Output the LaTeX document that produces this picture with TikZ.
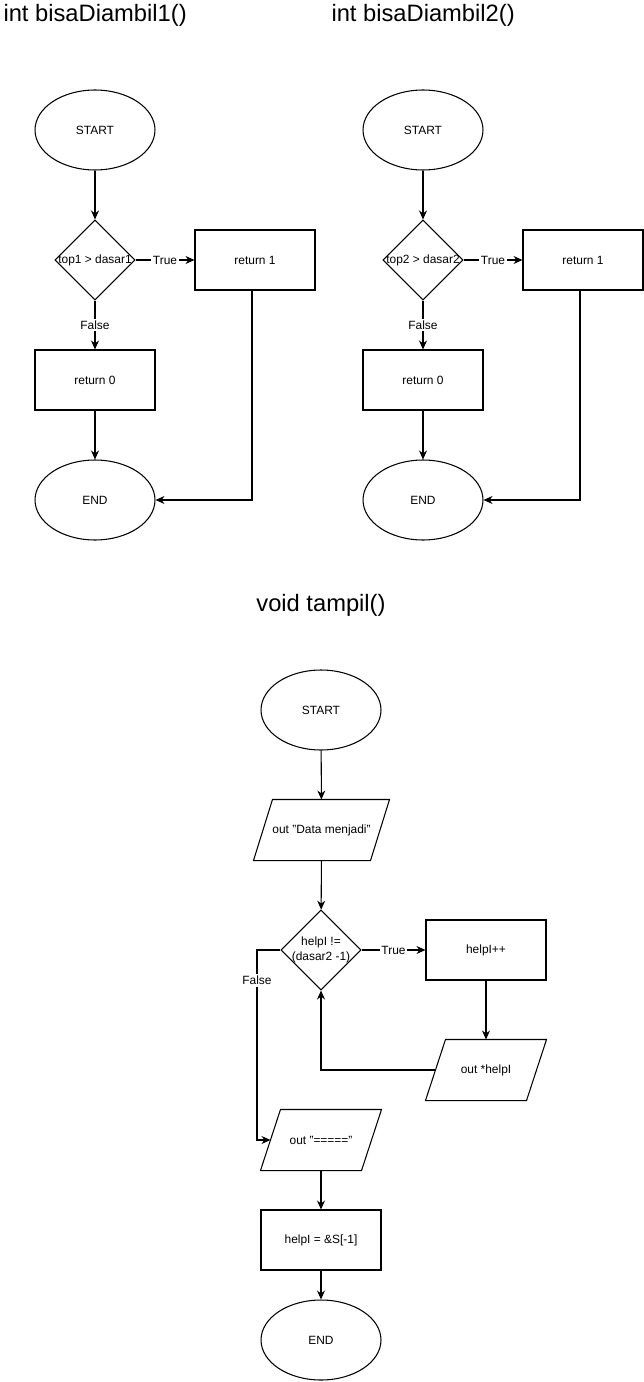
\documentclass[tikz,border=0pt]{standalone}
\usepackage{fontspec}
\setmainfont{Liberation Sans}
\usetikzlibrary{arrows.meta,positioning,shapes.geometric}
\newcommand{\smallfs}{\fontsize{6.8}{8.2}\selectfont}
\newcommand{\titlefs}{\fontsize{13.5}{16}\selectfont}
% outline of an input/output box: node name, slant
\newcommand{\iobox}[2]{%
  \draw ([xshift=#2]#1.north west) -- (#1.north east)
        -- ([xshift=-#2]#1.south east) -- (#1.south west) -- cycle;}
\tikzset{
  block/.style    = {draw, rectangle, minimum width=2.4cm, minimum height=1.2cm,
                     font=\smallfs},
  term/.style     = {draw, ellipse, minimum width=2.4cm, minimum height=1.6cm,
                     font=\smallfs},
  decision/.style = {draw, diamond, aspect=1, inner sep=0pt, minimum size=1.6cm},
  io/.style       = {rectangle, minimum width=2.4cm, minimum height=1.2cm,
                     font=\smallfs},
  sig/.style      = {-{Stealth[length=1.8mm,width=1.6mm]}},
  lbl/.style      = {fill=white, inner sep=1pt, font=\smallfs},
}

\begin{document}
\begin{tikzpicture}[x=0.02cm,y=-0.02cm,line width=0.6pt]
\useasboundingbox (0,0) rectangle (644,1382);

% titles
\node[anchor=west,font=\titlefs,inner sep=0pt] (t1) at (3,15) {int bisaDiambil1()};
\node[anchor=west,font=\titlefs,inner sep=0pt] (t2) at (331,15) {int bisaDiambil2()};
\node[font=\titlefs,inner sep=0pt] (t3) at (321,605) {void tampil()};

% bisaDiambil1
\node[term] (s1) at (95,130) {START};
\node[decision, label={[font=\smallfs]center:top1 > dasar1}] (d1) at (95,260) {};
\node[block] (ra1) at (255,260) {return 1};
\node[block] (rb1) at (95,380) {return 0};
\node[term] (e1) at (95,500) {END};
\coordinate (c1) at (252,500);
\draw[sig] (s1) -- (d1);
\draw[sig] (d1) -- node[lbl] {True} (ra1);
\draw[sig] (d1) -- node[lbl] {False} (rb1);
\draw[sig] (rb1) -- (e1);
\draw[sig] (ra1.south -| c1) -- (c1) -- (e1.east);

% bisaDiambil2
\node[term] (s2) at (423,130) {START};
\node[decision, label={[font=\smallfs]center:top2 > dasar2}] (d2) at (423,260) {};
\node[block] (ra2) at (583,260) {return 1};
\node[block] (rb2) at (423,380) {return 0};
\node[term] (e2) at (423,500) {END};
\coordinate (c2) at (580,500);
\draw[sig] (s2) -- (d2);
\draw[sig] (d2) -- node[lbl] {True} (ra2);
\draw[sig] (d2) -- node[lbl] {False} (rb2);
\draw[sig] (rb2) -- (e2);
\draw[sig] (ra2.south -| c2) -- (c2) -- (e2.east);

% tampil
\node[term] (s3) at (321,710) {START};
\node[io, minimum width=2.7cm] (o1) at (321.5,830) {out "Data menjadi"};
\iobox{o1}{0.38cm}
\node[decision, label={[font=\smallfs,align=center]center:helpI !=\\(dasar2 -1)}] (d3) at (321,950) {};
\node[block] (inc) at (486,950) {helpI++};
\node[io] (o2) at (486,1070) {out *helpI};
\iobox{o2}{0.4cm}
\node[io] (o3) at (321,1140) {out "====="};
\iobox{o3}{0.4cm}
\node[block] (asg) at (321,1240) {helpI = \&S[-1]};
\node[term] (e3) at (321,1340) {END};
\coordinate (lp) at (321,1070);
\coordinate (fl) at (257,950);
\coordinate (fb) at (257,1140);
\draw[sig] (s3) -- (o1);
\draw[sig] (o1) -- (d3);
\draw[sig] (d3) -- node[lbl] {True} (inc);
\draw[sig] (inc) -- (o2);
\draw[sig] ([xshift=0.2cm]o2.west) -- (lp) -- (d3.south);
\draw[sig] (d3.west) -- (fl) -- node[lbl,pos=0.16] {False} (fb)
  -- ([xshift=0.2cm]o3.west);
\draw[sig] (o3) -- (asg);
\draw[sig] (asg) -- (e3);
\end{tikzpicture}
\end{document}
